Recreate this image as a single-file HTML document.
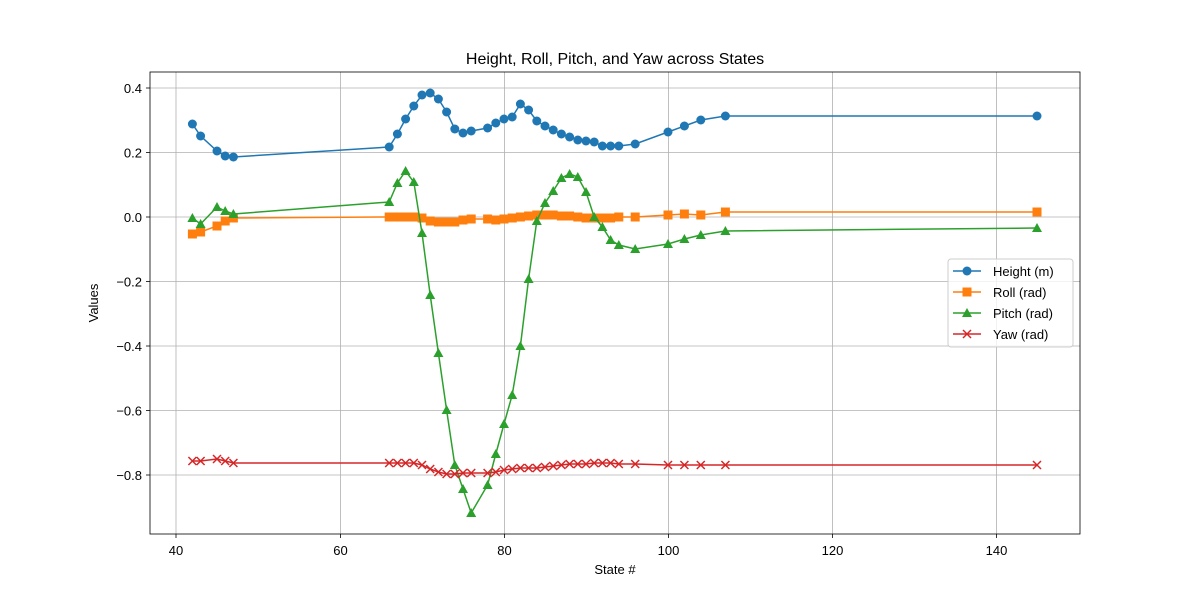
<!DOCTYPE html>
<html><head><meta charset="utf-8"><style>body{margin:0;background:#fff}svg{display:block;font-family:"Liberation Sans","DejaVu Sans",sans-serif}</style></head>
<body>
<svg width="1200" height="600" xmlns="http://www.w3.org/2000/svg">
<defs>
<marker id="mc" markerUnits="userSpaceOnUse" markerWidth="12" markerHeight="12" refX="6" refY="6" overflow="visible"><circle cx="6" cy="6" r="4.5" fill="#1f77b4"/></marker>
<marker id="ms" markerUnits="userSpaceOnUse" markerWidth="12" markerHeight="12" refX="6" refY="6" overflow="visible"><rect x="1.5" y="1.5" width="9" height="9" fill="#ff7f0e"/></marker>
<marker id="mt" markerUnits="userSpaceOnUse" markerWidth="12" markerHeight="12" refX="6" refY="6" overflow="visible"><polygon points="6,1 11,10 1,10" fill="#2ca02c"/></marker>
<marker id="mx" markerUnits="userSpaceOnUse" markerWidth="12" markerHeight="12" refX="6" refY="6" overflow="visible"><path d="M2,2 L10,10 M10,2 L2,10" stroke="#d62728" stroke-width="1.5"/></marker>
</defs>
<rect width="1200" height="600" fill="#fff"/>
<g stroke="#b0b0b0" stroke-width="0.8">
<line x1="176" y1="72" x2="176" y2="534"/><line x1="340.5" y1="72" x2="340.5" y2="534"/><line x1="504.5" y1="72" x2="504.5" y2="534"/><line x1="668.5" y1="72" x2="668.5" y2="534"/><line x1="832.5" y1="72" x2="832.5" y2="534"/><line x1="996.5" y1="72" x2="996.5" y2="534"/>
<line x1="150" y1="88" x2="1080" y2="88"/><line x1="150" y1="152.5" x2="1080" y2="152.5"/><line x1="150" y1="217" x2="1080" y2="217"/><line x1="150" y1="281.5" x2="1080" y2="281.5"/><line x1="150" y1="346" x2="1080" y2="346"/><line x1="150" y1="410.5" x2="1080" y2="410.5"/><line x1="150" y1="475" x2="1080" y2="475"/>
</g>
<g fill="none" stroke-width="1.5">
<polyline stroke="#1f77b4" marker-start="url(#mc)" marker-mid="url(#mc)" marker-end="url(#mc)" points="192.4,124 200.6,136 217,151 225.2,156 233.4,157 389.2,147 397.4,134 405.6,119 413.8,106 422,95 430.2,93 438.4,99 446.6,112 454.8,129 463,133 471.2,131 487.6,128 495.8,123 504,119 512.2,117 520.4,104 528.6,110 536.8,121 545,126 553.2,130 561.4,134 569.6,137 577.8,140 586,141 594.2,142 602.4,146 610.6,146 618.8,146 635.2,144 668,132 684.4,126 700.8,120 725.4,116 1037,116"/>
<polyline stroke="#ff7f0e" marker-start="url(#ms)" marker-mid="url(#ms)" marker-end="url(#ms)" points="192.4,234 200.6,232 217,226 225.2,221 233.4,218 389.2,217 397.4,217 405.6,217 413.8,217 422,218 430.2,221 438.4,222 446.6,222 454.8,222 463,220 471.2,219 487.6,219 495.8,220 504,219 512.2,218 520.4,217 528.6,216 536.8,215 545,215 553.2,215 561.4,216 569.6,216 577.8,217 586,218 594.2,218 602.4,218 610.6,218 618.8,217 635.2,217 668,215 684.4,214 700.8,215 725.4,212 1037,212"/>
<polyline stroke="#2ca02c" marker-start="url(#mt)" marker-mid="url(#mt)" marker-end="url(#mt)" points="192.4,218 200.6,224 217,207 225.2,211 233.4,214 389.2,202 397.4,183 405.6,171 413.8,182 422,233 430.2,295 438.4,353 446.6,410 454.8,465 463,489 471.2,513 487.6,485 495.8,454 504,424 512.2,395 520.4,346 528.6,279 536.8,221 545,203 553.2,191 561.4,178 569.6,174 577.8,177 586,192 594.2,217 602.4,227 610.6,240 618.8,245 635.2,249 668,244 684.4,239 700.8,235 725.4,231 1037,228"/>
<polyline stroke="#d62728" marker-start="url(#mx)" marker-mid="url(#mx)" marker-end="url(#mx)" points="192.4,461 200.6,461 217,459 225.2,461 233.4,463 389.2,463 397.4,463 405.6,463 413.8,463 422,465 430.2,469 438.4,472 446.6,474 454.8,474 463,473 471.2,473 487.6,473 495.8,472 504,470 512.2,469 520.4,468 528.6,468 536.8,468 545,467 553.2,466 561.4,465 569.6,464 577.8,464 586,464 594.2,463 602.4,463 610.6,463 618.8,464 635.2,464 668,465 684.4,465 700.8,465 725.4,465 1037,465"/>
</g>
<rect x="150" y="72" width="930" height="462" fill="none" stroke="#000" stroke-width="0.8"/>
<g stroke="#000" stroke-width="0.8">
<line x1="176" y1="534" x2="176" y2="538"/><line x1="340.5" y1="534" x2="340.5" y2="538"/><line x1="504.5" y1="534" x2="504.5" y2="538"/><line x1="668.5" y1="534" x2="668.5" y2="538"/><line x1="832.5" y1="534" x2="832.5" y2="538"/><line x1="996.5" y1="534" x2="996.5" y2="538"/>
<line x1="146" y1="88" x2="150" y2="88"/><line x1="146" y1="152.5" x2="150" y2="152.5"/><line x1="146" y1="217" x2="150" y2="217"/><line x1="146" y1="281.5" x2="150" y2="281.5"/><line x1="146" y1="346" x2="150" y2="346"/><line x1="146" y1="410.5" x2="150" y2="410.5"/><line x1="146" y1="475" x2="150" y2="475"/>
</g>
<g font-size="13" fill="#000" text-anchor="middle">
<text x="176" y="555">40</text><text x="340.5" y="555">60</text><text x="504.5" y="555">80</text><text x="668.5" y="555">100</text><text x="832.5" y="555">120</text><text x="996.5" y="555">140</text>
</g>
<g font-size="13" fill="#000" text-anchor="end">
<text x="142" y="93">0.4</text><text x="142" y="157.5">0.2</text><text x="142" y="222">0.0</text><text x="142" y="286.5">−0.2</text><text x="142" y="351">−0.4</text><text x="142" y="415.5">−0.6</text><text x="142" y="480">−0.8</text>
</g>
<text x="615" y="574" font-size="13" text-anchor="middle">State #</text>
<text transform="translate(98,303) rotate(-90)" font-size="13" text-anchor="middle">Values</text>
<text x="615" y="64" font-size="16" text-anchor="middle">Height, Roll, Pitch, and Yaw across States</text>
<g>
<rect x="948" y="259" width="125" height="88" fill="#fff" fill-opacity="0.8" stroke="#ccc" rx="3"/>
<line x1="953" y1="271" x2="981" y2="271" stroke="#1f77b4" stroke-width="1.5"/><circle cx="967" cy="271" r="4.5" fill="#1f77b4"/>
<line x1="953" y1="292" x2="981" y2="292" stroke="#ff7f0e" stroke-width="1.5"/><rect x="962.5" y="287.5" width="9" height="9" fill="#ff7f0e"/>
<line x1="953" y1="313" x2="981" y2="313" stroke="#2ca02c" stroke-width="1.5"/><polygon points="967,308 972,317 962,317" fill="#2ca02c"/>
<line x1="953" y1="334" x2="981" y2="334" stroke="#d62728" stroke-width="1.5"/><path d="M963,330 L971,338 M971,330 L963,338" stroke="#d62728" stroke-width="1.5"/>
<g font-size="13"><text x="993" y="276">Height (m)</text><text x="993" y="297">Roll (rad)</text><text x="993" y="318">Pitch (rad)</text><text x="993" y="339">Yaw (rad)</text></g>
</g>
</svg>
</body></html>
